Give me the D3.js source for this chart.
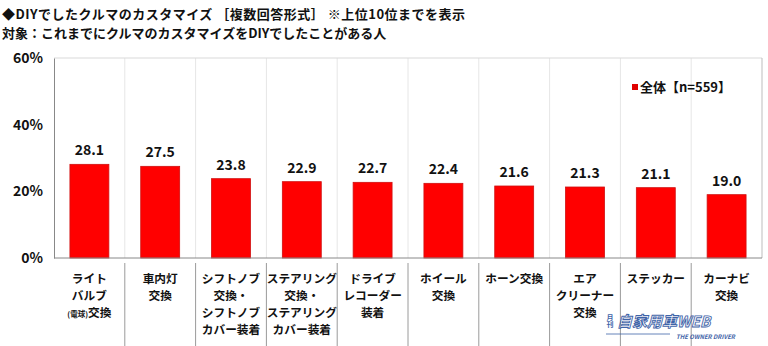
<!DOCTYPE html>
<html><head><meta charset="utf-8">
<script src="https://cdn.jsdelivr.net/npm/d3@7"></script>
<style>
body{margin:0;background:#fff;}
svg text{font-family:"Noto Sans CJK JP","Noto Sans",sans-serif;font-weight:700;fill:#111;}
</style></head>
<body><svg id="c" width="768" height="346"></svg>
<script>
const categories = [
  ["ライト","バルブ","(電球)交換"],
  ["車内灯","交換"],
  ["シフトノブ","交換・","シフトノブ","カバー装着"],
  ["ステアリング","交換・","ステアリング","カバー装着"],
  ["ドライブ","レコーダー","装着"],
  ["ホイール","交換"],
  ["ホーン交換"],
  ["エア","クリーナー","交換"],
  ["ステッカー"],
  ["カーナビ","交換"]
];
const values = [28.1, 27.5, 23.8, 22.9, 22.7, 22.4, 21.6, 21.3, 21.1, 19.0];
const yTicks = [0, 20, 40, 60];
const titleLines = ["◆DIYでしたクルマのカスタマイズ ［複数回答形式］ ※上位10位までを表示","対象：これまでにクルマのカスタマイズをDIYでしたことがある人"];
const legendLabel = "全体【n=559】";

const svg = d3.select("#c");
const L = 54, R = 762, T = 58, B = 258;
const x = d3.scaleBand().domain(d3.range(values.length)).range([L, R]).paddingInner(0).paddingOuter(0);
const y = d3.scaleLinear().domain([0, 60]).range([B, T]);

// title
svg.selectAll("text.title").data(titleLines).join("text")
  .attr("x", 2).attr("y", (d,i)=>19 + i*19)
  .style("letter-spacing", (d,i)=> i===0 ? "0.5px" : "0px")
  .style("font-size","13px").text(d=>d);

// category separators
const seps = d3.range(1, values.length).map(i => L + i*x.bandwidth());
svg.selectAll("line.sepIn").data(seps).join("line")
  .attr("x1", d=>d).attr("x2", d=>d).attr("y1", T).attr("y2", B)
  .attr("stroke", "#e6e6e6").attr("stroke-width", 1);
svg.selectAll("line.sepOut").data(seps).join("line")
  .attr("x1", d=>d).attr("x2", d=>d).attr("y1", B+5).attr("y2", 346)
  .attr("stroke", "#9a9a9a").attr("stroke-width", 1);

// frame
svg.append("line").attr("x1", L).attr("x2", R).attr("y1", T).attr("y2", T).attr("stroke", "#d9d9d9");
svg.append("line").attr("x1", R).attr("x2", R).attr("y1", T).attr("y2", B).attr("stroke", "#bdbdbd");

// bars
const bw = x.bandwidth()*0.55;
svg.selectAll("rect.bar").data(values).join("rect")
  .attr("x", (d,i)=>x(i) + (x.bandwidth()-bw)/2)
  .attr("y", d=>y(d)).attr("width", bw).attr("height", d=>B - y(d))
  .attr("fill", "#ff0000").attr("stroke", "#d01010").attr("stroke-width", 0.8);

// value labels
svg.selectAll("text.val").data(values).join("text")
  .attr("x", (d,i)=>x(i)+x.bandwidth()/2).attr("y", d=>y(d)-9)
  .attr("text-anchor","middle").style("font-size","14px").text(d=>d.toFixed(1));

// y axis
const yAxis = d3.axisLeft(y).tickValues(yTicks).tickFormat(d=>d+"%").tickSize(0).tickPadding(11);
const ga = svg.append("g").attr("transform", `translate(${L},0)`).call(yAxis);
ga.select(".domain").attr("stroke", "#888");
ga.selectAll("text").style("font-size","14px").style("font-family",'"Noto Sans CJK JP",sans-serif').style("font-weight","700").attr("fill","#111");

// x axis line
svg.append("line").attr("x1", L).attr("x2", R).attr("y1", B).attr("y2", B).attr("stroke", "#888");

// category labels
const cg = svg.selectAll("g.cat").data(categories).join("g")
  .attr("transform", (d,i)=>`translate(${x(i)+x.bandwidth()/2},0)`);
cg.selectAll("text").data(d=>d).join("text")
  .attr("x", 0).attr("y", (d,i)=>283 + i*17)
  .attr("text-anchor","middle").style("font-size","11.7px")
  .text(d=>d);
// smaller (電球)
cg.filter((d,i)=>i===0).selectAll("text").filter((d,i)=>i===2).text(null)
  .call(t=>{ t.append("tspan").style("font-size","7.5px").text("(電球)"); t.append("tspan").text("交換"); });

// legend
svg.append("rect").attr("x", 632).attr("y", 84).attr("width", 6).attr("height", 6).attr("fill", "#e00000");
svg.append("text").attr("x", 640).attr("y", 92).style("font-size","13px").text(legendLabel);

// watermark
const wm = svg.append("g");
wm.append("text").attr("x", 610).attr("y", 314).style("writing-mode","vertical-rl").style("font-size","7px").style("fill","#3f64a8").text("月刊");
wm.append("text").attr("x", 617).attr("y", 327).style("font-size","15px").style("font-style","italic")
  .style("fill","none").attr("stroke","#3f64a8").attr("stroke-width",0.9).text("自家用車WEB");
wm.append("line").attr("x1", 606).attr("x2", 670).attr("y1", 334).attr("y2", 334).attr("stroke","#3f64a8").attr("stroke-width",0.8);
wm.append("text").attr("x", 676).attr("y", 339).style("font-size","6px").style("font-style","italic").style("fill","#3f64a8").text("THE OWNER DRIVER");
</script></body></html>
